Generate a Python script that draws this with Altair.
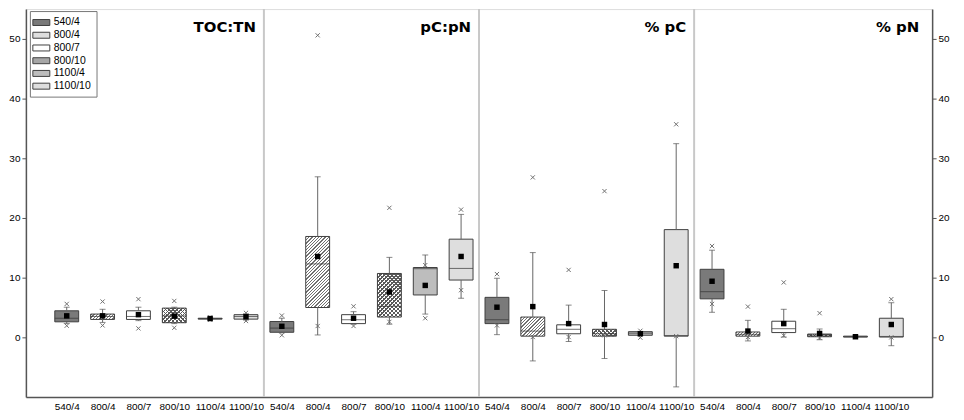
import json
import math
import altair as alt

# ---------------- data ----------------
categories = ["540/4", "800/4", "800/7", "800/10", "1100/4", "1100/10"]
panels = ["TOC:TN", "pC:pN", "% pC", "% pN"]

# TOC:TN
toc_lo = [2.3, 2.5, 2.8, 2.3, 2.95, 2.9]
toc_q1 = [2.6, 3.0, 3.0, 2.45, 3.05, 3.05]
toc_med = [3.2, 3.5, 3.5, 3.6, 3.15, 3.5]
toc_q3 = [4.45, 3.9, 4.45, 4.9, 3.2, 3.8]
toc_hi = [5.05, 4.7, 5.05, 5.05, 3.3, 3.95]
toc_xlo = [1.95, 2.0, 1.5, 1.6, 2.95, 2.75]
toc_xhi = [5.6, 6.0, 6.4, 6.1, 3.35, 4.1]
toc_mean = [3.6, 3.6, 3.8, 3.55, 3.15, 3.45]

# pC:pN
cn_lo = [0.75, 0.4, 2.2, 2.2, 3.9, 6.55]
cn_q1 = [0.85, 5.0, 2.3, 3.4, 7.1, 9.6]
cn_med = [1.55, 12.3, 2.95, 5.2, 11.5, 11.55]
cn_q3 = [2.65, 16.9, 3.8, 10.7, 11.7, 16.45]
cn_hi = [3.2, 26.9, 4.3, 13.4, 13.8, 20.6]
cn_xlo = [0.35, 1.9, 1.9, 2.6, 3.2, 7.9]
cn_xhi = [3.65, 50.6, 5.2, 21.7, 12.1, 21.4]
cn_mean = [1.85, 13.55, 3.2, 7.6, 8.7, 13.55]

# % pC
pc_lo = [0.45, -3.95, -0.7, -3.55, 0.3, -8.3]
pc_q1 = [2.3, 0.2, 0.6, 0.2, 0.35, 0.2]
pc_med = [2.95, 1.05, 1.35, 0.6, 0.7, 0.3]
pc_q3 = [6.7, 3.4, 2.1, 1.35, 0.95, 18.05]
pc_hi = [9.9, 14.2, 5.4, 7.85, 1.0, 32.45]
pc_xlo = [2.0, 0.05, 0.05, 0.35, -0.05, 0.2]
pc_xhi = [10.6, 26.8, 11.3, 24.5, 1.1, 35.7]
pc_mean = [5.05, 5.15, 2.3, 2.15, 0.6, 12.0]

# % pN
pn_lo = [4.2, -0.6, 0.05, -0.4, 0.0, -1.4]
pn_q1 = [6.45, 0.2, 0.8, 0.1, 0.05, 0.05]
pn_med = [7.65, 0.5, 1.45, 0.35, 0.1, 0.15]
pn_q3 = [11.4, 0.9, 2.7, 0.55, 0.2, 3.2]
pn_hi = [14.6, 2.85, 4.7, 1.4, 0.25, 5.8]
pn_xlo = [5.6, 0.05, 0.3, -0.1, 0.05, 0.0]
pn_xhi = [15.3, 5.15, 9.2, 4.05, 0.2, 6.4]
pn_mean = [9.4, 1.05, 2.3, 0.65, 0.1, 2.15]

y_ticks = [0, 10, 20, 30, 40, 50]

# ---------------- styling ----------------
fills = ["#7a7a7a", "#dedede", "#ffffff", "#a6a6a6", "#bdbdbd", "#dedede"]
FONT = "Liberation Sans"
FS = 10
PLOT_W, PLOT_H = 911, 390
YMIN, YMAX = -10, 55
BOX_W = 24
PX = PLOT_H / (YMAX - YMIN)

panel_stats = [
    (toc_lo, toc_q1, toc_med, toc_q3, toc_hi, toc_xlo, toc_xhi, toc_mean),
    (cn_lo, cn_q1, cn_med, cn_q3, cn_hi, cn_xlo, cn_xhi, cn_mean),
    (pc_lo, pc_q1, pc_med, pc_q3, pc_hi, pc_xlo, pc_xhi, pc_mean),
    (pn_lo, pn_q1, pn_med, pn_q3, pn_hi, pn_xlo, pn_xhi, pn_mean),
]
ncat = len(categories)
XMIN, XMAX = -1, len(panels) * ncat


def stripes(h_px, direction, c_line, c_gap, period, frac):
    w = BOX_W
    h = max(h_px, 0.5)
    r = h / w
    a = (1 + r) / (1 + r * r)
    n = max(1, round((w + h) / (math.sqrt(2) * period)))
    stops = []
    for k in range(n):
        o0, o1, o2 = k / n, (k + frac) / n, (k + 1) / n
        stops += [
            {"offset": o0, "color": c_line},
            {"offset": o1, "color": c_line},
            {"offset": o1, "color": c_gap},
            {"offset": o2, "color": c_gap},
        ]
    if direction == "up":
        x1, y1, x2, y2 = 0, 0, a, a * r
    else:
        x1, y1, x2, y2 = 0, 1, a, 1 - a * r
    return {"gradient": "linear", "x1": x1, "y1": y1, "x2": x2, "y2": y2, "stops": stops}


rows, hatch1, hatch2 = [], [], []
for p, stats in enumerate(panel_stats):
    lo, q1, med, q3, hi, xlo, xhi, mean = stats
    for c, cat in enumerate(categories):
        idx = p * ncat + c
        rec = dict(idx=idx, cat=cat, lo=lo[c], q1=q1[c], med=med[c], q3=q3[c],
                   hi=hi[c], xlo=xlo[c], xhi=xhi[c], mean=mean[c])
        rows.append(rec)
        h_px = (q3[c] - q1[c]) * PX
        if c == 1:
            hatch1.append(dict(idx=idx, q1=q1[c], q3=q3[c],
                               g=stripes(h_px, "up", "#707070", "#ffffff", 2.3, 0.4)))
        if c == 3:
            hatch1.append(dict(idx=idx, q1=q1[c], q3=q3[c],
                               g=stripes(h_px, "up", "#5a5a5a", "#ffffff", 2.8, 0.36)))
            hatch2.append(dict(idx=idx, q1=q1[c], q3=q3[c],
                               g=stripes(h_px, "down", "#5a5a5a", "rgba(255,255,255,0)", 2.8, 0.36)))

dividers = [{"pos": (p + 1) * ncat - 0.5} for p in range(len(panels) - 1)]
edges = [d["pos"] for d in dividers] + [XMAX]
title_rows = [{"title": t, "edge": e} for t, e in zip(panels, edges)]

xscale = alt.Scale(domain=[XMIN, XMAX], nice=False, zero=False)
yscale = alt.Scale(domain=[YMIN, YMAX], nice=False, zero=False)
xaxis = alt.Axis(values=list(range(len(panels) * ncat)),
                 labelExpr=f"{json.dumps(categories)}[datum.value % {ncat}]",
                 ticks=False, grid=False, domainColor="#555", domainWidth=1.5,
                 labelPadding=5, labelFont=FONT, labelFontSize=FS, labelColor="#000",
                 labelOverlap=False, labelFlush=False, title=None)


def X(field):
    return alt.X(f"{field}:Q", scale=xscale, axis=xaxis)


def Y(field, orient="left"):
    return alt.Y(f"{field}:Q", scale=yscale, title=None,
                 axis=alt.Axis(orient=orient, values=y_ticks, grid=False, tickSize=4,
                               tickColor="#555", domainColor="#555", domainWidth=1.5,
                               labelPadding=2, labelFont=FONT, labelFontSize=FS,
                               labelColor="#000", title=None))


box_data = alt.Data(values=rows)
base = alt.Chart(box_data)

div_layer = alt.Chart(alt.Data(values=dividers)).mark_rule(
    color="#c8c8c8", strokeWidth=2).encode(x=X("pos"))

box_fill = base.mark_bar(width=BOX_W).encode(
    x=X("idx"), y=Y("q1"), y2="q3",
    color=alt.Color("cat:N", scale=alt.Scale(domain=categories, range=fills),
                    legend=alt.Legend(title=None, orient="none", legendX=4, legendY=2,
                                      strokeColor="#777", fillColor="#ffffff", padding=5,
                                      symbolType="M-1.42,-0.5H1.42V0.5H-1.42Z",
                                      symbolSize=144, symbolStrokeColor="#404040",
                                      symbolStrokeWidth=1, symbolOpacity=1,
                                      labelFont=FONT, labelFontSize=FS + 0.5, labelColor="#000",
                                      labelOffset=6, rowPadding=0.8)),
)

hatch_layer1 = alt.Chart(alt.Data(values=hatch1)).mark_bar(width=BOX_W).encode(
    x=X("idx"), y=Y("q1"), y2="q3", fill=alt.Fill("g:N", scale=None, legend=None))
hatch_layer2 = alt.Chart(alt.Data(values=hatch2)).mark_bar(width=BOX_W).encode(
    x=X("idx"), y=Y("q1"), y2="q3", fill=alt.Fill("g:N", scale=None, legend=None))

median = base.mark_tick(orient="horizontal", size=BOX_W, thickness=1, color="#333").encode(
    x=X("idx"), y=Y("med"))
outline = base.mark_bar(width=BOX_W, fillOpacity=0, stroke="#404040", strokeWidth=1).encode(
    x=X("idx"), y=Y("q1"), y2="q3")
wh_up = base.mark_rule(color="#666", strokeWidth=1).encode(x=X("idx"), y=Y("q3"), y2="hi")
wh_dn = base.mark_rule(color="#666", strokeWidth=1).encode(x=X("idx"), y=Y("lo"), y2="q1")
cap_up = base.mark_tick(orient="horizontal", size=6, thickness=1, color="#555").encode(
    x=X("idx"), y=Y("hi"))
cap_dn = base.mark_tick(orient="horizontal", size=6, thickness=1, color="#555").encode(
    x=X("idx"), y=Y("lo"))
xpath = "M-1,-1L1,1M-1,1L1,-1"
x_up = base.mark_point(shape=xpath, size=18, filled=False, color="#707070",
                       strokeWidth=1, opacity=1).encode(x=X("idx"), y=Y("xhi"))
x_dn = base.mark_point(shape=xpath, size=18, filled=False, color="#707070",
                       strokeWidth=1, opacity=1).encode(x=X("idx"), y=Y("xlo"))

titles = alt.Chart(alt.Data(values=title_rows)).mark_text(
    align="right", baseline="alphabetic", dx=-8, font="DejaVu Sans", fontWeight="bold",
    fontSize=15, color="#000").encode(x=X("edge"), y=alt.value(23), text="title:N")

left = alt.layer(div_layer, box_fill, hatch_layer1, hatch_layer2, median, outline,
                 wh_up, wh_dn, cap_up, cap_dn, x_up, x_dn, titles)

mean_layer = base.mark_square(size=30, color="#000", opacity=1).encode(
    x=X("idx"), y=Y("mean", orient="right"))

chart = alt.layer(left, mean_layer).resolve_scale(y="independent").properties(
    width=PLOT_W, height=PLOT_H,
    autosize=alt.AutoSizeParams(type="none"),
    padding={"left": 18, "top": 0, "right": 24, "bottom": 20},
).configure_view(stroke="#999", strokeWidth=1).configure(background="#ffffff")

chart.save("out.html", embed_options={"renderer": "svg", "actions": False})
